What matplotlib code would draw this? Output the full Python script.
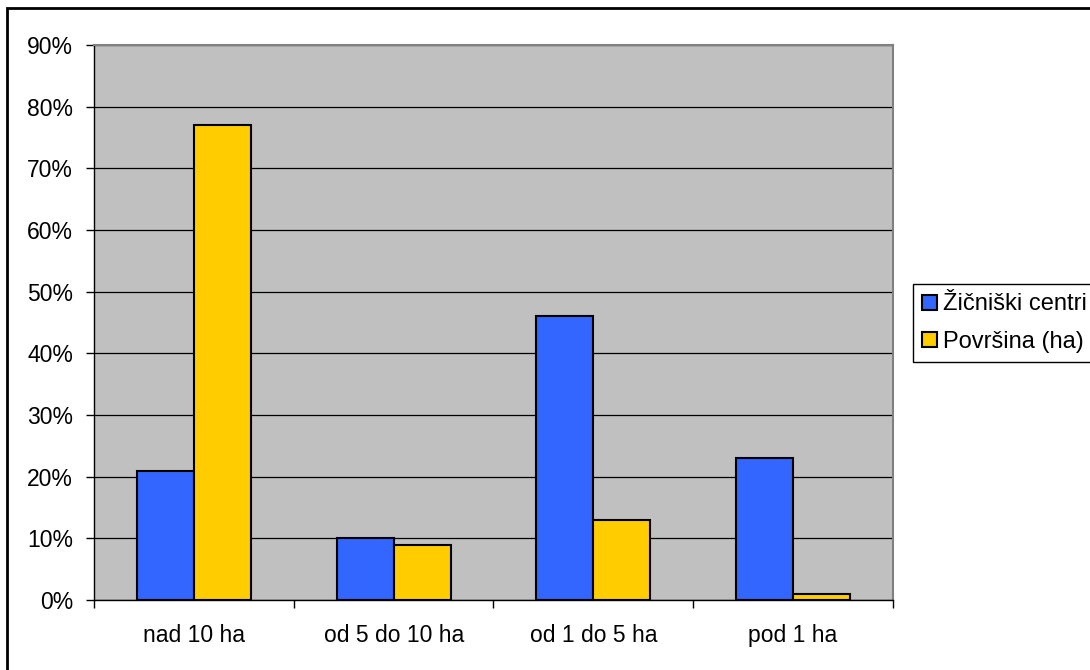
import matplotlib.pyplot as plt
import numpy as np
from matplotlib.patches import Rectangle
from matplotlib.ticker import FixedLocator, FuncFormatter

plt.rcParams['font.family'] = ['Liberation Sans', 'DejaVu Sans']

categories = ['nad 10 ha', 'od 5 do 10 ha', 'od 1 do 5 ha', 'pod 1 ha']
series_names = ['Žičniški centri', 'Površina (ha)']
zicniski = [21, 10, 46, 23]
povrsina = [77, 9, 13, 1]
yticks = [0, 10, 20, 30, 40, 50, 60, 70, 80, 90]

W, H = 1090, 670
fig = plt.figure(figsize=(W / 100, H / 100), dpi=100)
ax = fig.add_axes([94 / W, 1 - 600 / H, (893 - 94) / W, (600 - 45) / H])
ax.set_facecolor('#C0C0C0')

x = np.arange(len(categories))
bw = 1 / 3.5
ax.bar(x - bw / 2, zicniski, bw, color='#3366FF', edgecolor='black', linewidth=1.5,
       label=series_names[0], zorder=3)
ax.bar(x + bw / 2, povrsina, bw, color='#FFCC00', edgecolor='black', linewidth=1.5,
       label=series_names[1], zorder=3)

ax.set_xlim(-0.5, len(categories) - 0.5)
ax.set_ylim(0, 90)
ax.set_yticks(yticks)
ax.yaxis.set_major_formatter(FuncFormatter(lambda v, p: f'{v:.0f}%'))
ax.tick_params(axis='y', length=6, width=1, pad=9, labelsize=16.5, direction='out')

# category boundaries as major ticks, labels at centres via minor ticks
ax.xaxis.set_major_locator(FixedLocator(np.arange(len(categories) + 1) - 0.5))
ax.xaxis.set_minor_locator(FixedLocator(x))
ax.set_xticklabels([], minor=False)
ax.set_xticklabels(categories, minor=True)
ax.tick_params(axis='x', which='major', length=6, width=1, direction='out')
ax.tick_params(axis='x', which='minor', length=0, pad=17.5, labelsize=16.5)

ax.grid(axis='y', color='black', linewidth=0.9, zorder=1)
ax.set_axisbelow(True)
for side in ['top', 'right']:
    ax.spines[side].set_color('#808080')
    ax.spines[side].set_linewidth(1.5)
for side in ['left', 'bottom']:
    ax.spines[side].set_color('black')
    ax.spines[side].set_linewidth(1)

leg = fig.legend(loc='upper left', bbox_to_anchor=(913 / W, 1 - 284 / H), fontsize=17,
                 frameon=True, fancybox=False, edgecolor='black', framealpha=1,
                 handlelength=0.6, handleheight=0.6, handletextpad=0.25,
                 labelspacing=0.65, borderpad=0.4, borderaxespad=0)
leg.get_frame().set_linewidth(1)

# outer chart border
fig.patches.append(Rectangle((7 / W, -0.1), 1.2, 1.1 - 8 / H, transform=fig.transFigure,
                             fill=False, edgecolor='black', linewidth=2))

fig.savefig('out.png', dpi=100)
